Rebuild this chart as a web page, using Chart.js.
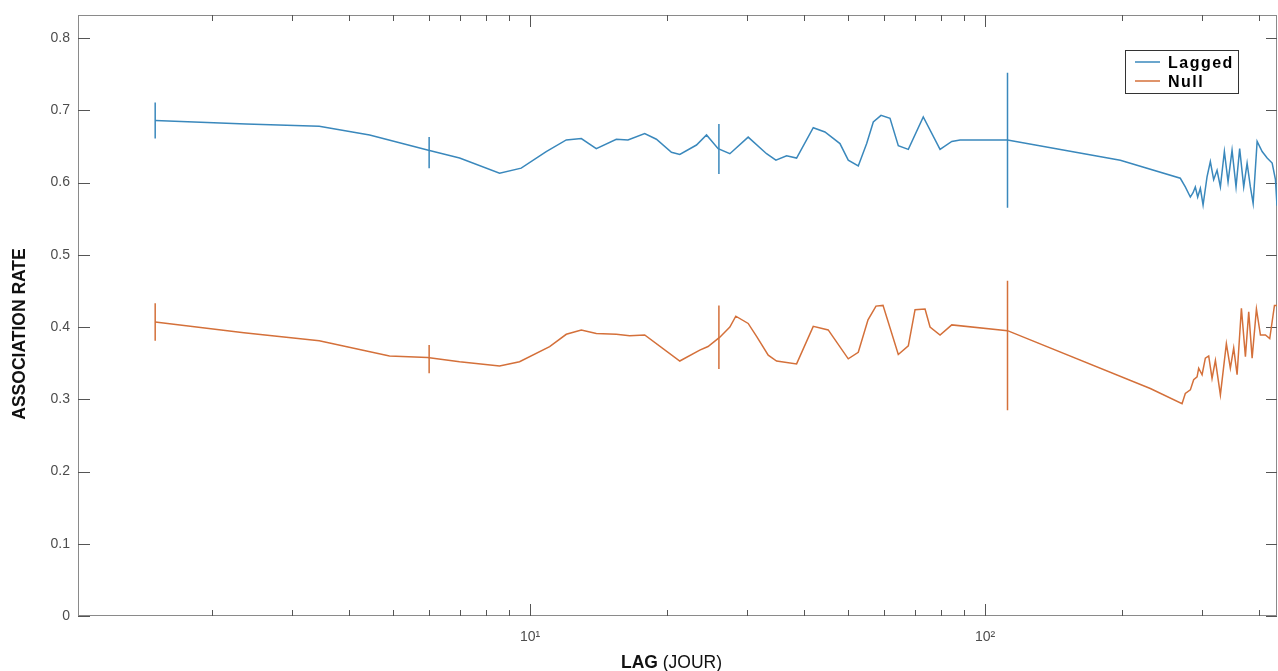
<!DOCTYPE html>
<html>
<head>
<meta charset="utf-8">
<script src="https://cdn.jsdelivr.net/npm/chart.js@4.4.0/dist/chart.umd.min.js"></script>
<style>
  html, body { margin: 0; padding: 0; background: #fff; overflow: hidden; }
  #wrap { width: 1278px; height: 671px; position: relative; }
  #chart { display: block; }
</style>
</head>
<body>
<div id="wrap"><canvas id="chart"></canvas></div>
<script>
// lag (days) and association rate
const lagLagged = [1.5, 2.375, 3.44, 4.44, 5.95, 7.0, 8.57, 9.56, 10.85, 12.01, 12.96, 13.98, 15.47, 16.41,
  17.86, 18.95, 20.45, 21.33, 23.21, 24.42, 25.9, 27.48, 30.15, 33.09, 34.69, 36.62, 38.52, 41.91, 44.46,
  47.97, 50.03, 52.63, 54.92, 56.79, 59.05, 61.8, 64.45, 67.8, 73.13, 79.61, 84.48, 88.11, 112, 198.2,
  268.5, 275.4, 282.5, 286.4, 289.7, 293.2, 297.2, 301.3, 307.4, 312.6, 317.9, 323.4, 328.9, 335.6, 341.9,
  348.9, 356.0, 362.6, 370.1, 376.5, 382.8, 388.2, 396.1, 406.3, 416.7, 427.4, 434.6, 438];
const rateLagged = [0.686, 0.681, 0.678, 0.666, 0.645, 0.634, 0.613, 0.620, 0.643, 0.659, 0.661, 0.647, 0.660, 0.659,
  0.668, 0.660, 0.642, 0.639, 0.652, 0.666, 0.647, 0.640, 0.663, 0.640, 0.631, 0.637, 0.634, 0.676, 0.670,
  0.654, 0.631, 0.623, 0.654, 0.684, 0.693, 0.689, 0.651, 0.646, 0.691, 0.646, 0.657, 0.659, 0.659, 0.631,
  0.606, 0.594, 0.580, 0.586, 0.594, 0.580, 0.592, 0.569, 0.608, 0.629, 0.604, 0.617, 0.594, 0.643, 0.601,
  0.645, 0.594, 0.647, 0.594, 0.627, 0.594, 0.571, 0.657, 0.643, 0.634, 0.627, 0.604, 0.568];

const lagNull = [1.5, 2.35, 3.44, 4.91, 5.95, 7.0, 8.57, 9.48, 11.04, 12.01, 12.96, 13.98, 15.47, 16.55,
  17.86, 21.33, 23.6, 24.61, 26.12, 27.48, 28.32, 30.15, 31.46, 33.37, 34.81, 38.52, 41.91, 45.2, 50.03,
  52.63, 55.29, 57.57, 59.65, 64.45, 67.8, 70.15, 73.79, 75.68, 79.61, 84.48, 112, 230.7, 270.9, 275.4,
  282.5, 287.3, 292.3, 294.7, 299.8, 304.8, 310.0, 315.3, 320.7, 328.9, 339.0, 345.9, 351.8, 357.9, 365.8,
  373.3, 379.6, 386.2, 394.7, 402.8, 413.1, 422.2, 432.4, 438];
const rateNull = [0.407, 0.392, 0.381, 0.360, 0.358, 0.352, 0.346, 0.352, 0.373, 0.390, 0.396, 0.391, 0.390, 0.388,
  0.389, 0.353, 0.368, 0.373, 0.386, 0.400, 0.415, 0.405, 0.387, 0.361, 0.353, 0.349, 0.401, 0.396, 0.356,
  0.365, 0.410, 0.429, 0.430, 0.362, 0.374, 0.424, 0.425, 0.400, 0.389, 0.403, 0.395, 0.315, 0.294, 0.308,
  0.313, 0.327, 0.331, 0.343, 0.334, 0.357, 0.360, 0.329, 0.354, 0.306, 0.377, 0.343, 0.371, 0.334, 0.426,
  0.359, 0.421, 0.357, 0.425, 0.389, 0.389, 0.384, 0.430, 0.430];

// error bars
const errLags = [1.5, 6, 26, 112];
const laggedLow = [0.661, 0.620, 0.612, 0.565];
const laggedHigh = [0.711, 0.663, 0.681, 0.752];
const nullLow = [0.381, 0.336, 0.342, 0.285];
const nullHigh = [0.433, 0.375, 0.430, 0.464];

const seriesNames = ['Lagged', 'Null'];
const seriesColors = ['#3a88bc', '#d4703a'];
const xTickLabels = { 10: '10\u00b9', 100: '10\u00b2' };

const toPoints = (xs, ys) => xs.map((x, i) => ({ x, y: ys[i] }));
const toBars = (lo, hi) => errLags.flatMap((x, i) => [{ x, y: lo[i] }, { x, y: hi[i] }, { x, y: null }]);

const lineStyle = (color) => ({
  borderColor: color,
  backgroundColor: color,
  borderWidth: 1.5,
  pointRadius: 0,
  tension: 0,
  fill: false,
  spanGaps: false,
});

// box, inward ticks, axis titles and the boxed legend
const frame = {
  id: 'frame',
  beforeDatasetsDraw(chart) {
    const { ctx, chartArea: a, scales: { x, y } } = chart;
    ctx.save();
    ctx.lineWidth = 1;
    ctx.strokeStyle = '#8a8a8a';
    ctx.strokeRect(a.left + 0.5, a.top + 0.5, a.right - a.left - 1, a.bottom - a.top - 1);

    ctx.strokeStyle = '#555';
    ctx.beginPath();
    x.ticks.forEach((t) => {
      const sig = t.value / Math.pow(10, Math.floor(Math.log10(t.value) + 1e-9));
      if (Math.abs(sig - Math.round(sig)) > 1e-6) return;
      const px = Math.round(x.getPixelForValue(t.value)) + 0.5;
      const len = Math.round(sig) === 1 ? 12 : 6;
      ctx.moveTo(px, a.bottom); ctx.lineTo(px, a.bottom - len);
      ctx.moveTo(px, a.top); ctx.lineTo(px, a.top + len);
    });
    y.ticks.forEach((t) => {
      const py = Math.round(y.getPixelForValue(t.value)) + 0.5;
      ctx.moveTo(a.left, py); ctx.lineTo(a.left + 12, py);
      ctx.moveTo(a.right, py); ctx.lineTo(a.right - 11, py);
    });
    ctx.stroke();

    // x title: bold "LAG" + regular " (JOUR)"
    ctx.fillStyle = '#111';
    ctx.textBaseline = 'alphabetic';
    ctx.textAlign = 'left';
    ctx.font = 'bold 17.5px "Liberation Sans", Arial, sans-serif';
    const w1 = ctx.measureText('LAG').width;
    ctx.font = '17.5px "Liberation Sans", Arial, sans-serif';
    const w2 = ctx.measureText(' (JOUR)').width;
    const x0 = 671.5 - (w1 + w2) / 2;
    ctx.font = 'bold 17.5px "Liberation Sans", Arial, sans-serif';
    ctx.fillText('LAG', x0, 668);
    ctx.font = '17.5px "Liberation Sans", Arial, sans-serif';
    ctx.fillText(' (JOUR)', x0 + w1, 668);

    // y title
    ctx.save();
    ctx.translate(25, 334);
    ctx.rotate(-Math.PI / 2);
    ctx.textAlign = 'center';
    ctx.font = 'bold 17.5px "Liberation Sans", Arial, sans-serif';
    ctx.fillText('ASSOCIATION RATE', 0, 0);
    ctx.restore();
    ctx.restore();
  },
  afterDraw(chart) {
    const { ctx, chartArea: a } = chart;
    const bx = a.right - 152, by = 50, bw = 113, bh = 43;
    ctx.save();
    ctx.fillStyle = '#fff';
    ctx.fillRect(bx, by, bw, bh);
    ctx.strokeStyle = '#333';
    ctx.lineWidth = 1;
    ctx.strokeRect(bx + 0.5, by + 0.5, bw, bh);
    ctx.font = 'bold 16px "Liberation Sans", Arial, sans-serif';
    ctx.letterSpacing = '1.5px';
    ctx.textBaseline = 'alphabetic';
    ctx.textAlign = 'left';
    seriesNames.forEach((name, i) => {
      const ly = by + 12 + i * 19;
      ctx.strokeStyle = seriesColors[i];
      ctx.lineWidth = 1.5;
      ctx.beginPath();
      ctx.moveTo(bx + 10, ly);
      ctx.lineTo(bx + 35, ly);
      ctx.stroke();
      ctx.fillStyle = '#000';
      ctx.fillText(name, bx + 43, ly + 5.5);
    });
    ctx.restore();
  },
};

const config = {
  type: 'line',
  data: {
    datasets: [
      { label: seriesNames[0], data: toPoints(lagLagged, rateLagged), ...lineStyle(seriesColors[0]) },
      { label: seriesNames[1], data: toPoints(lagNull, rateNull), ...lineStyle(seriesColors[1]) },
      { label: 'err1', data: toBars(laggedLow, laggedHigh), ...lineStyle(seriesColors[0]) },
      { label: 'err2', data: toBars(nullLow, nullHigh), ...lineStyle(seriesColors[1]) },
    ],
  },
  options: {
    responsive: true,
    maintainAspectRatio: false,
    animation: false,
    layout: { padding: { top: 15, right: 1, left: 0, bottom: 0 } },
    plugins: {
      legend: { display: false },
      tooltip: { enabled: false },
    },
    scales: {
      x: {
        type: 'logarithmic',
        min: 1.015,
        max: 438,
        grid: { display: false, drawTicks: true, tickLength: 13 },
        border: { display: false },
        ticks: {
          autoSkip: false,
          maxRotation: 0,
          padding: 0,
          color: '#4d4d4d',
          font: { family: '"Liberation Sans", Arial, sans-serif', size: 14 },
          callback(v) {
            const k = Math.round(v);
            return Math.abs(v - k) < 1e-6 && xTickLabels[k] ? xTickLabels[k] : '';
          },
        },
        afterFit(scale) { scale.height = 55; },
      },
      y: {
        min: 0,
        max: 0.832,
        grid: { display: false, drawTicks: true, tickLength: 8 },
        border: { display: false },
        ticks: {
          stepSize: 0.1,
          includeBounds: false,
          padding: 0,
          color: '#4d4d4d',
          font: { family: '"Liberation Sans", Arial, sans-serif', size: 14 },
          callback(v) { return (Math.round(v * 10) / 10).toString(); },
        },
        afterFit(scale) { scale.width = 78; },
      },
    },
  },
  plugins: [frame],
};

new Chart(document.getElementById('chart'), config);
</script>
</body>
</html>
